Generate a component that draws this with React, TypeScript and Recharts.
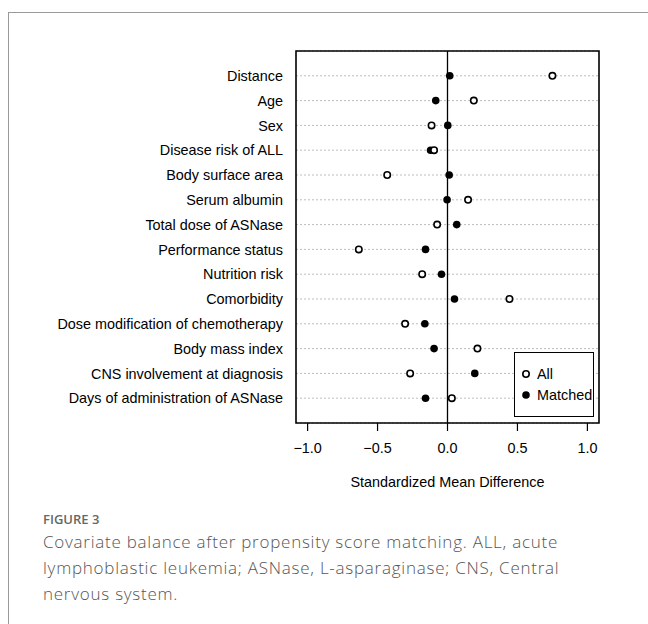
import React from "react"
import {
  ScatterChart,
  Scatter,
  XAxis,
  YAxis,
  CartesianGrid,
  ReferenceLine,
  ReferenceArea,
  Label,
} from "recharts"

// covariates, top to bottom
const covariates = [
  "Distance",
  "Age",
  "Sex",
  "Disease risk of ALL",
  "Body surface area",
  "Serum albumin",
  "Total dose of ASNase",
  "Performance status",
  "Nutrition risk",
  "Comorbidity",
  "Dose modification of chemotherapy",
  "Body mass index",
  "CNS involvement at diagnosis",
  "Days of administration of ASNase",
]

// standardized mean difference before matching
const smdAll = [0.75, 0.188, -0.114, -0.096, -0.431, 0.147, -0.074, -0.634, -0.181, 0.443, -0.303, 0.214, -0.267, 0.031]

// standardized mean difference after matching
const smdMatched = [0.016, -0.084, 0.002, -0.121, 0.012, -0.003, 0.066, -0.157, -0.043, 0.05, -0.162, -0.096, 0.195, -0.157]

const xTicks = [-1, -0.5, 0, 0.5, 1]
const rowTicks = covariates.map((_, i) => i + 1)

const allPoints = covariates.map((name, i) => ({ name, x: smdAll[i], y: i + 1 }))
const matchedPoints = covariates.map((name, i) => ({ name, x: smdMatched[i], y: i + 1 }))

const FONT = '"Liberation Sans", Arial, Helvetica, sans-serif'
const FS = 14.4

const OpenDot = (props: any) => (
  <circle cx={props.cx} cy={props.cy} r={3.2} fill="#fff" stroke="#000" strokeWidth={1.6} />
)

const FilledDot = (props: any) => <circle cx={props.cx} cy={props.cy} r={3.8} fill="#000" />

const fmt = (v: number) => v.toFixed(1).replace("-", "\u2212")

function LovePlot() {
  return (
    <ScatterChart width={648} height={500} margin={{ top: 51, right: 49, bottom: 7, left: 0 }}>
      <CartesianGrid vertical={false} stroke="#bdbdbd" strokeDasharray="2 2" />
      <XAxis
        type="number"
        dataKey="x"
        domain={[-1.083, 1.083]}
        allowDataOverflow
        ticks={xTicks}
        tickFormatter={fmt}
        axisLine={false}
        tickLine={{ stroke: "#000", strokeWidth: 1.2 }}
        tickSize={8}
        tickMargin={12}
        height={70}
        tick={{ fill: "#000", fontSize: FS, fontFamily: FONT }}
      >
        <Label
          value="Standardized Mean Difference"
          position="insideBottom"
          offset={6}
          style={{ fill: "#000", fontSize: FS, fontFamily: FONT }}
        />
      </XAxis>
      <YAxis
        type="number"
        dataKey="y"
        domain={[0, 15]}
        reversed
        allowDataOverflow
        ticks={rowTicks}
        interval={0}
        tickFormatter={(v: number) => covariates[v - 1] ?? ""}
        axisLine={false}
        tickLine={false}
        tickSize={0}
        tickMargin={13}
        width={296}
        tick={{ fill: "#000", fontSize: FS, fontFamily: FONT }}
      />
      <ReferenceLine x={0} stroke="#000" strokeWidth={1.3} />
      <Scatter data={matchedPoints} shape={FilledDot} isAnimationActive={false} />
      <Scatter data={allPoints} shape={OpenDot} isAnimationActive={false} />
      <ReferenceArea x1={-1.083} x2={1.083} y1={0} y2={15} fill="none" stroke="#000" strokeWidth={1.6} />
    </ScatterChart>
  )
}

function LegendBox() {
  const row = (label: string, filled: boolean) => (
    <div style={{ display: "flex", alignItems: "center", height: 21.5 }}>
      <svg width={22} height={12} style={{ display: "block" }}>
        {filled ? (
          <circle cx={11} cy={6} r={3.8} fill="#000" />
        ) : (
          <circle cx={11} cy={6} r={3.2} fill="#fff" stroke="#000" strokeWidth={1.6} />
        )}
      </svg>
      <span style={{ fontSize: FS, fontFamily: FONT, color: "#000", lineHeight: "16px" }}>{label}</span>
    </div>
  )
  return (
    <div
      style={{
        position: "absolute",
        left: 514,
        top: 352,
        width: 80,
        height: 65,
        boxSizing: "border-box",
        border: "1.6px solid #000",
        background: "#fff",
        paddingTop: 10,
      }}
    >
      {row("All", false)}
      {row("Matched", true)}
    </div>
  )
}

export default function App() {
  return (
    <div
      style={{
        position: "fixed",
        left: 0,
        top: 0,
        width: 648,
        height: 624,
        overflow: "hidden",
        background: "#fff",
      }}
    >
      <div
        style={{
          position: "absolute",
          left: 8,
          top: 12,
          width: 800,
          height: 800,
          borderTop: "1.5px solid #9a9a9a",
          borderLeft: "1.5px solid #9a9a9a",
        }}
      />
      <div style={{ position: "absolute", left: 0, top: 0 }}>
        <LovePlot />
      </div>
      <LegendBox />
      <div
        style={{
          position: "absolute",
          left: 43,
          top: 511,
          fontFamily: '"Open Sans", sans-serif',
          fontSize: 13,
          fontWeight: 600,
          lineHeight: "16px",
          color: "#666",
        }}
      >
        FIGURE 3
      </div>
      <div
        style={{
          position: "absolute",
          left: 43,
          top: 529,
          fontFamily: '"Open Sans", sans-serif',
          fontSize: 17,
          fontWeight: 300,
          letterSpacing: 0.75,
          lineHeight: "26px",
          color: "#555",
          whiteSpace: "nowrap",
        }}
      >
        Covariate balance after propensity score matching. ALL, acute
        <br />
        lymphoblastic leukemia; ASNase, L-asparaginase; CNS, Central
        <br />
        nervous system.
      </div>
    </div>
  )
}
